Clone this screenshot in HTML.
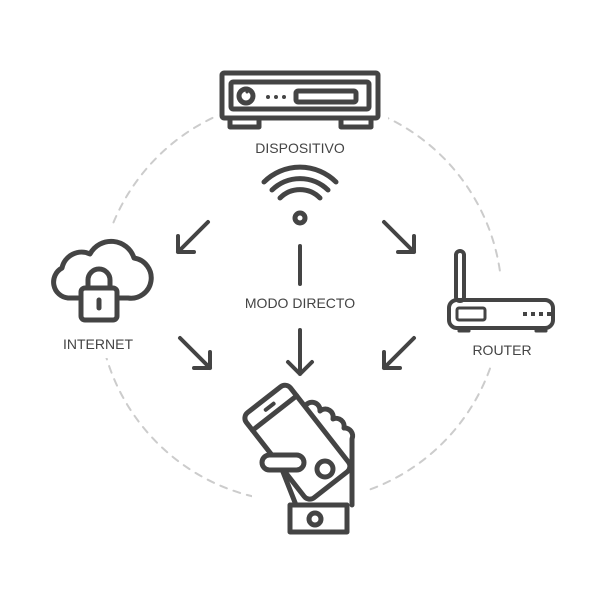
<!DOCTYPE html>
<html><head><style>body{margin:0;background:#fff}svg{display:block}text{font-family:"Liberation Sans",sans-serif;fill:#444}</style></head><body>
<svg width="600" height="600" viewBox="0 0 600 600" fill="none" stroke="#444" stroke-width="5" stroke-linecap="round" stroke-linejoin="round">
<circle cx="300" cy="300" r="202" stroke="#ccc" stroke-width="2" stroke-dasharray="7 7"/>
<rect x="218" y="85" width="170" height="60" fill="#fff" stroke="none"/>
<rect x="85" y="228" width="50" height="130" fill="#fff" stroke="none"/>
<rect x="470" y="276" width="45" height="87" fill="#fff" stroke="none"/>
<rect x="252" y="465" width="116" height="50" fill="#fff" stroke="none"/>
<!-- device -->
<rect x="222" y="73" width="156" height="45" rx="2"/>
<rect x="231" y="82" width="138" height="27" rx="2"/>
<circle cx="246" cy="96" r="7"/>
<circle cx="247" cy="92" r="1.5" fill="#444" stroke="none"/>
<g fill="#444" stroke="none"><circle cx="268" cy="97" r="2"/><circle cx="276" cy="97" r="2"/><circle cx="284" cy="97" r="2"/></g>
<rect x="296" y="91" width="60" height="11" rx="2"/>
<path d="M230 118v9h29v-9M341 118v9h30v-9"/>
<text x="300" y="153" font-size="14" text-anchor="middle" stroke="none">DISPOSITIVO</text>
<!-- wifi -->
<path d="M264 182A51 51 0 0 1 336 182M272 190A40 40 0 0 1 328 190M280 198A28 28 0 0 1 320 198"/>
<circle cx="300" cy="218" r="5"/>
<!-- arrows -->
<g stroke-width="4">
<path d="M208 222L178 252M178 236V252H194"/>
<path d="M384 222L414 252M414 236V252H398"/>
<path d="M180 338L210 368M210 352V368H194"/>
<path d="M414 338L384 368M384 352V368H400"/>
<path d="M300 246V284"/>
<path d="M300 330V374M288 362L300 374L312 362"/>
</g>
<text x="300" y="308" font-size="14" text-anchor="middle" stroke="none">MODO DIRECTO</text>
<!-- cloud -->
<path d="M78 298H68A16 16 0 0 1 62 268A20 20 0 0 1 90 254A24 24 0 0 1 134 258A20 20 0 0 1 128 298H118"/>
<rect x="81" y="288" width="36" height="32" rx="4"/>
<path d="M88 288V280A11 11 0 0 1 110 280V288"/>
<path d="M99 300V308"/>
<text x="98" y="349" font-size="14" text-anchor="middle" stroke="none">INTERNET</text>
<!-- router -->
<rect x="456" y="251" width="8" height="50" rx="4" stroke-width="4"/>
<rect x="449" y="300" width="104" height="28" rx="8" stroke-width="4"/>
<rect x="457" y="308" width="28" height="12" rx="2" stroke-width="3"/>
<g fill="#444" stroke="none"><rect x="523" y="312" width="4" height="4"/><rect x="531" y="312" width="4" height="4"/><rect x="539" y="312" width="4" height="4"/><rect x="547" y="312" width="4" height="4"/></g>
<path d="M459 328v3h10v-3M536 328v3h10v-3" stroke-width="3"/>
<text x="502" y="355" font-size="14" text-anchor="middle" stroke="none">ROUTER</text>
<!-- phone hand -->
<g transform="translate(298 443) rotate(-38)">
<rect x="-28" y="-55" width="56" height="108" rx="7"/>
<path d="M-28 -38H28"/>
<path d="M-5 -46H5" stroke-width="4"/>
</g>
<path d="M306 405a8 8 0 0 1 14 6a8 8 0 0 1 13 8a8 8 0 0 1 11 9a8 8 0 0 1 8 11"/>
<rect x="262" y="455" width="42" height="15" rx="7.5" fill="#fff"/>
<circle cx="325" cy="469" r="8"/>
<path d="M283 472L296 505M352 440V505"/>
<rect x="290" y="505" width="57" height="27"/>
<circle cx="315" cy="519" r="6"/>
</svg>
</body></html>
